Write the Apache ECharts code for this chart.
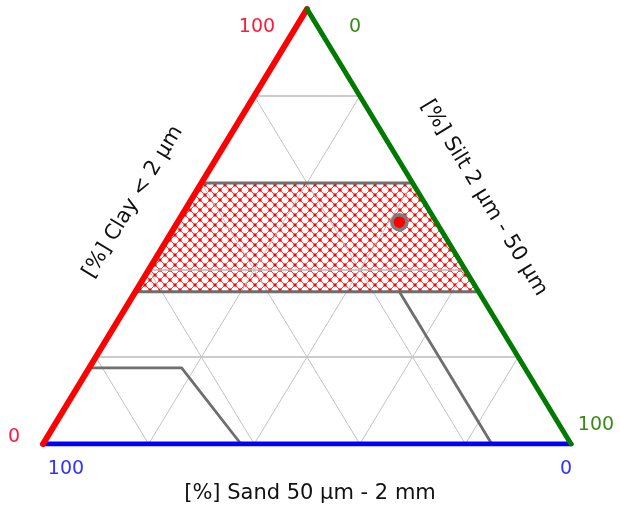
<!DOCTYPE html>
<html>
<head>
<meta charset="utf-8">
<title>Texture triangle</title>
<script src="https://cdn.jsdelivr.net/npm/echarts@6/dist/echarts.min.js"></script>
<style>
  html, body { margin: 0; background: #fff; }
  #main { width: 620px; height: 511px; }
</style>
</head>
<body>
<div id="main"></div>
<script>
// every composition is [silt %, clay %]; sand is what is left
var gridSteps = [20, 40, 60, 80];
var clayBand = [[0, 35], [0, 60], [40, 60], [65, 35]];
var boundaries = [
    [[0, 60], [40, 60]],
    [[0, 35], [65, 35]],
    [[0, 17.5], [17.5, 17.5], [37.5, 0]],
    [[50, 35], [85, 0]]
];
var sample = [42, 51];
var edgeClay = [[0, 0], [0, 100]];
var edgeSilt = [[0, 100], [100, 0]];
var edgeSand = [[0, 0], [100, 0]];

// ternary -> plain x/y of the hidden cartesian grid
function xy(p) { return [p[0] + p[1] / 2, p[1]]; }
function path(pts) { return pts.map(xy); }

// red cross hatch tile
var tile = document.createElement('canvas');
tile.width = 10; tile.height = 10;
var g = tile.getContext('2d');
g.strokeStyle = '#ff4040';
g.lineWidth = 1;
g.beginPath();
g.moveTo(0, 0); g.lineTo(10, 10);
g.moveTo(10, 0); g.lineTo(0, 10);
g.stroke();
g.fillStyle = '#ff0000';
[[5, 5], [0, 0], [10, 0], [0, 10], [10, 10]].forEach(function (d) {
    g.beginPath(); g.arc(d[0], d[1], 1.7, 0, Math.PI * 2); g.fill();
});

function lineSeries(pts, color, width) {
    return {
        type: 'line', data: path(pts), showSymbol: false, silent: true,
        lineStyle: { color: color, width: width, cap: 'round', join: 'round' }
    };
}

var series = [];
var band = path(clayBand);
series.push({
    type: 'custom', silent: true, data: band,
    renderItem: function (params, api) {
        if (params.dataIndex !== 0) return;
        return {
            type: 'polygon',
            shape: { points: band.map(function (p) { return api.coord(p); }) },
            style: { fill: { type: 'pattern', image: tile, repeat: 'repeat' } }
        };
    }
});
gridSteps.forEach(function (v) {
    series.push(lineSeries([[0, v], [100 - v, v]], '#bcbcbc', 1.4));
    series.push(lineSeries([[v, 0], [v, 100 - v]], '#c2c2c2', 1));
    series.push(lineSeries([[0, 100 - v], [100 - v, 0]], '#c2c2c2', 1));
});
boundaries.forEach(function (b) {
    series.push(lineSeries(b, '#6e6e6e', 2.8));
});
series.push(lineSeries(edgeSand, '#0000ff', 5));
series.push(lineSeries(edgeClay, '#ff0000', 6));
series.push(lineSeries(edgeSilt, '#007a00', 5));
series.push({
    type: 'scatter', data: [xy(sample)], symbolSize: 15, silent: true,
    itemStyle: { color: '#ff0000', borderColor: '#7c7c7c', borderWidth: 3.5, opacity: 1 }
});

var font = '"DejaVu Sans", Verdana, sans-serif';
function label(text, x, y, color, size, rot) {
    return {
        type: 'text', x: x, y: y, rotation: rot || 0, silent: true,
        style: { text: text, fill: color, font: size + 'px ' + font, align: 'center', verticalAlign: 'middle' }
    };
}
var tilt = Math.atan2(435, 264);

var myChart = echarts.init(document.getElementById('main'));
var option = {
    animation: false,
    grid: { left: 43, top: 9, width: 528, height: 435 },
    xAxis: { type: 'value', min: 0, max: 100, show: false },
    yAxis: { type: 'value', min: 0, max: 100, show: false },
    series: series,
    graphic: [
        label('100', 257, 27, '#ff1a3c', 19),
        label('0', 355, 27, '#3a8a1a', 19),
        label('0', 14, 437, '#ff1a3c', 19),
        label('100', 596, 425, '#3a8a1a', 19),
        label('100', 66, 469, '#3232ff', 19),
        label('0', 566, 469, '#3232ff', 19),
        label('[%] Sand 50 µm - 2 mm', 310, 494, '#111', 21),
        label('[%] Clay < 2 µm', 133, 202, '#111', 21, tilt),
        label('[%] Silt 2 µm - 50 µm', 484, 198, '#111', 21, -tilt)
    ]
};
myChart.setOption(option);
</script>
</body>
</html>
